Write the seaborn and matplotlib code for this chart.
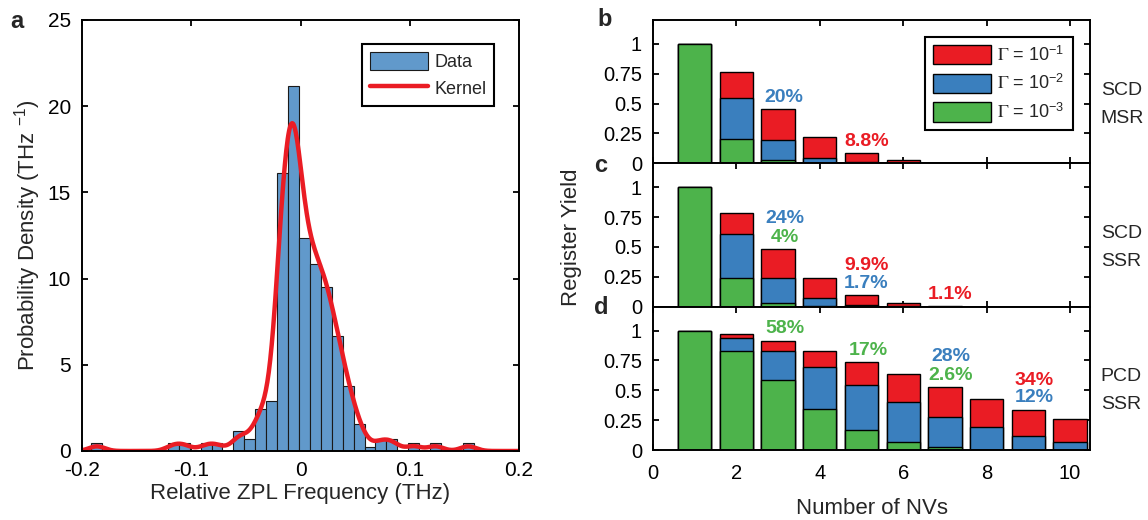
import numpy as np
import pandas as pd
import matplotlib
matplotlib.use("Agg")
import matplotlib.pyplot as plt
import seaborn as sns

# ---------------- data ----------------
# panel a: histogram (bin centers in THz, probability density in THz^-1)
hist_centers = [-0.1864, -0.1164, -0.1064, -0.0864, -0.0764, -0.0564, -0.0464,
                -0.0364, -0.0264, -0.0164, -0.0064, 0.0036, 0.0136, 0.0236,
                0.0336, 0.0436, 0.0536, 0.0636, 0.0736, 0.0836, 0.1036,
                0.1236, 0.1536]
hist_density = [0.46, 0.46, 0.46, 0.46, 0.46, 1.14, 0.70,
                2.46, 2.90, 16.14, 21.17, 12.36, 10.84, 9.52,
                6.66, 3.77, 1.59, 0.23, 0.70, 0.70, 0.46,
                0.46, 0.46]
bin_start = -0.1914
bin_width = 0.01
n_bins = 35
kernel_bandwidth = 0.0072   # THz

hist_labels = ["Data", "Kernel"]
a_xticks = [-0.2, -0.1, 0, 0.1, 0.2]
a_xticklabels = ["-0.2", "-0.1", "0", "0.1", "0.2"]
a_yticks = [0, 5, 10, 15, 20, 25]

# panels b-d: register yield vs number of NVs
nv_counts = [1, 2, 3, 4, 5, 6, 7, 8, 9, 10]
b_gamma1 = [1.0, 0.766, 0.457, 0.220, 0.084, 0.025, 0.005, 0.0, 0.0, 0.0]
b_gamma2 = [1.0, 0.546, 0.192, 0.047, 0.008, 0.001, 0.0, 0.0, 0.0, 0.0]
b_gamma3 = [1.0, 0.206, 0.028, 0.003, 0.0, 0.0, 0.0, 0.0, 0.0, 0.0]

c_gamma1 = [1.0, 0.784, 0.486, 0.239, 0.093, 0.031, 0.008, 0.0, 0.0, 0.0]
c_gamma2 = [1.0, 0.604, 0.242, 0.070, 0.014, 0.002, 0.0, 0.0, 0.0, 0.0]
c_gamma3 = [1.0, 0.242, 0.034, 0.005, 0.0, 0.0, 0.0, 0.0, 0.0, 0.0]

d_gamma1 = [1.0, 0.972, 0.913, 0.832, 0.740, 0.634, 0.528, 0.427, 0.335, 0.260]
d_gamma2 = [1.0, 0.939, 0.832, 0.698, 0.547, 0.405, 0.279, 0.190, 0.117, 0.070]
d_gamma3 = [1.0, 0.832, 0.584, 0.341, 0.168, 0.070, 0.028, 0.003, 0.0, 0.0]

gamma_labels = [r"$\Gamma$ = 10$^{\mathregular{-1}}$",
                r"$\Gamma$ = 10$^{\mathregular{-2}}$",
                r"$\Gamma$ = 10$^{\mathregular{-3}}$"]
panel_side_labels = [("SCD", "MSR"), ("SCD", "SSR"), ("PCD", "SSR")]
yield_yticks = [0, 0.25, 0.5, 0.75, 1]
yield_yticklabels = ["0", "0.25", "0.5", "0.75", "1"]
nv_xticks = [0, 2, 4, 6, 8, 10]

# annotations: (text, series index 0=red,1=blue,2=green)
b_notes = [("20%", 1), ("8.8%", 0)]
c_notes = [("24%", 1), ("4%", 2), ("9.9%", 0), ("1.7%", 1), ("1.1%", 0)]
d_notes = [("58%", 2), ("17%", 2), ("28%", 1), ("2.6%", 2), ("34%", 0), ("12%", 1)]
# annotation positions (data coords), kept separate from data
b_note_pos = [(3.14, 0.552), (5.13, 0.184)]
c_note_pos = [(3.17, 0.734), (3.17, 0.58), (5.12, 0.343), (5.12, 0.195), (7.12, 0.10)]
d_note_pos = [(3.17, 1.018), (5.16, 0.837), (7.14, 0.781), (7.14, 0.628),
              (9.14, 0.586), (9.14, 0.438)]

# ---------------- style ----------------
sns.set_style("ticks")
plt.rcParams["font.family"] = ["Liberation Sans", "DejaVu Sans"]
plt.rcParams["mathtext.fontset"] = "stix"
plt.rcParams["axes.unicode_minus"] = False

RED = "#EA1C24"
BLUE = "#3A7FBE"
GREEN = "#4DB34B"
HIST = "#6199CB"
series_colors = [RED, BLUE, GREEN]

W, H = 1148, 520
fig = plt.figure(figsize=(W / 100, H / 100), dpi=100)


def px_axes(x0, y0, x1, y1):
    return fig.add_axes([x0 / W, 1 - y1 / H, (x1 - x0) / W, (y1 - y0) / H])


def style_axes(ax, fs):
    for s in ax.spines.values():
        s.set_visible(True)
        s.set_linewidth(1.4)
        s.set_color("black")
    ax.tick_params(direction="in", length=4, width=1.3, top=True, right=True,
                   labelsize=fs, colors="black", pad=8)


# ---------------- panel a ----------------
ax_a = px_axes(82, 20, 519, 451)
hist_df = pd.DataFrame({"freq": hist_centers, "dens": hist_density})
bin_edges = list(bin_start + bin_width * np.arange(n_bins + 1))
sns.histplot(data=hist_df, x="freq", weights="dens", bins=bin_edges, stat="count",
             color=HIST, edgecolor="#1a1a1a", linewidth=0.8, alpha=1, ax=ax_a)
cov = np.cov(hist_centers, aweights=hist_density)
bw_factor = float(kernel_bandwidth / np.sqrt(cov))
sns.kdeplot(data=hist_df, x="freq", weights="dens", bw_method=bw_factor, cut=8,
            clip=(-0.2, 0.2), gridsize=600, color=RED, linewidth=3.2, ax=ax_a)
ax_a.set_xlim(-0.2, 0.2)
ax_a.set_ylim(0, 25)
ax_a.set_xticks(a_xticks)
ax_a.set_xticklabels(a_xticklabels)
ax_a.set_yticks(a_yticks)
style_axes(ax_a, 15)
ax_a.tick_params(axis="x", pad=7)
ax_a.set_xlabel("Relative ZPL Frequency (THz)", fontsize=16)
ax_a.set_ylabel(r"Probability Density (THz $^{\mathregular{-1}}$)", fontsize=16)
ax_a.xaxis.set_label_coords(0.5, (451 - 494) / 431)
ax_a.xaxis.label.set_va("center")
ax_a.yaxis.set_label_coords((28 - 82) / 437, 0.5)
ax_a.yaxis.label.set_va("center")
ax_a.yaxis.label.set_rotation_mode("default")
leg_a = ax_a.legend([ax_a.patches[0], ax_a.lines[0]], hist_labels,
                    loc="upper left", bbox_to_anchor=(362 / W, 1 - 44 / H),
                    bbox_transform=fig.transFigure, borderaxespad=0,
                    fontsize=13, handlelength=3.2, handleheight=1.15,
                    labelspacing=0.4, borderpad=0.45, handletextpad=0.35,
                    fancybox=False, framealpha=1, edgecolor="black")
leg_a.get_frame().set_linewidth(1.5)

# ---------------- panels b-d ----------------
panel_tops = [20, 163.3, 306.7]
panel_h = 143.3
panel_data = [(b_gamma1, b_gamma2, b_gamma3),
              (c_gamma1, c_gamma2, c_gamma3),
              (d_gamma1, d_gamma2, d_gamma3)]
panel_notes = [(b_notes, b_note_pos), (c_notes, c_note_pos), (d_notes, d_note_pos)]
right_axes = []
for i, (top, series, (notes, pos), side) in enumerate(
        zip(panel_tops, panel_data, panel_notes, panel_side_labels)):
    ax = px_axes(653, top, 1090, top + panel_h)
    right_axes.append(ax)
    for vals, col in zip(series, series_colors):
        sns.barplot(x=nv_counts, y=vals, native_scale=True, color=col,
                    saturation=1, edgecolor="black", linewidth=1.0,
                    errorbar=None, width=0.8, ax=ax)
    ax.set_xlim(0, 10.48)
    ax.set_ylim(0, 1.2)
    ax.set_yticks(yield_yticks)
    ax.set_yticklabels(yield_yticklabels)
    ax.set_xticks(nv_xticks)
    style_axes(ax, 14.5)
    if i < 2:
        ax.tick_params(axis="x", labelbottom=False)
    else:
        ax.tick_params(axis="x", pad=10)
    ax.set_xlabel("")
    ax.set_ylabel("")
    for (txt, si), (x, y) in zip(notes, pos):
        ax.text(x, y, txt, color=series_colors[si], fontsize=14,
                fontweight="bold", ha="center", va="center")
    ax.text((1100.7 - 653) / 437, 0.51, side[0], transform=ax.transAxes,
            fontsize=14, ha="left", va="center", clip_on=False)
    ax.text((1100.7 - 653) / 437, 0.315, side[1], transform=ax.transAxes,
            fontsize=14, ha="left", va="center", clip_on=False)

ax_b, ax_c, ax_d = right_axes
leg_b = ax_b.legend(ax_b.containers[:3], gamma_labels, loc="upper left",
                    bbox_to_anchor=(925 / W, 1 - 37 / H),
                    bbox_transform=fig.transFigure, borderaxespad=0,
                    fontsize=13, handlelength=3.2, handleheight=1.25,
                    labelspacing=0.5, borderpad=0.45, handletextpad=0.35,
                    fancybox=False, framealpha=1, edgecolor="black")
leg_b.get_frame().set_linewidth(1.5)
ax_d.set_xlabel("Number of NVs", fontsize=16)
ax_d.xaxis.set_label_coords(0.5, (450 - 508) / panel_h)
ax_d.xaxis.label.set_va("center")
ax_c.set_ylabel("Register Yield", fontsize=16)
ax_c.yaxis.set_label_coords((572 - 653) / 437, (306.7 - 237) / panel_h)
ax_c.yaxis.label.set_va("center")
ax_c.yaxis.label.set_rotation_mode("default")

# panel letters
for letter, (x, y) in zip("abcd", [(17, 22), (605, 20), (601, 166), (601, 308)]):
    fig.text(x / W, 1 - y / H, letter, fontsize=17, fontweight="bold",
             ha="center", va="center")

fig.savefig("out.png", dpi=100)
